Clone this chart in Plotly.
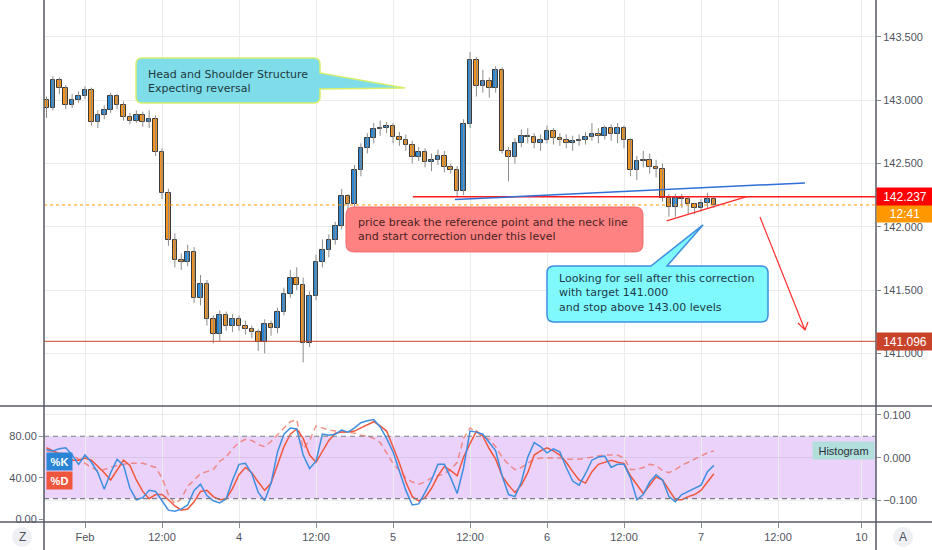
import plotly.graph_objects as go

# hourly bars; x = hours from Mon 3 Feb 00:00, weekend squeezed out
hours = list(range(-6, 99))

opens = [143.00, 142.94, 143.16, 143.10, 142.96, 143.00, 143.03, 143.08, 142.83, 142.88,
         142.92, 143.03, 142.96, 142.87, 142.84, 142.88, 142.83, 142.85, 142.59, 142.27,
         141.90, 141.74, 141.72, 141.80, 141.44, 141.55, 141.27, 141.15, 141.30, 141.22,
         141.27, 141.22, 141.19, 141.17, 141.09, 141.23, 141.20, 141.33, 141.47, 141.60,
         141.54, 141.08, 141.45, 141.72, 141.82, 141.90, 142.01, 142.24, 142.18, 142.45,
         142.62, 142.70, 142.77, 142.78, 142.80, 142.71, 142.69, 142.65, 142.55, 142.59,
         142.51, 142.53, 142.56, 142.47, 142.45, 142.28, 142.81, 143.32, 143.11, 143.15,
         143.10, 143.24, 142.60, 142.55, 142.66, 142.72, 142.71, 142.66, 142.69, 142.76,
         142.70, 142.69, 142.66, 142.68, 142.69, 142.71, 142.73, 142.72, 142.78, 142.73,
         142.78, 142.69, 142.45, 142.52, 142.53, 142.47, 142.46, 142.23, 142.16, 142.23,
         142.22, 142.18, 142.15, 142.19, 142.22]
highs = [143.03, 143.19, 143.18, 143.12, 143.05, 143.07, 143.11, 143.10, 142.92, 142.96,
         143.06, 143.05, 142.99, 142.90, 142.92, 142.91, 142.92, 142.88, 142.62, 142.30,
         141.95, 141.79, 141.86, 141.84, 141.62, 141.58, 141.30, 141.34, 141.33, 141.31,
         141.30, 141.26, 141.22, 141.19, 141.27, 141.26, 141.36, 141.52, 141.66, 141.68,
         141.60, 141.49, 141.78, 141.90, 141.94, 142.04, 142.30, 142.26, 142.49, 142.66,
         142.74, 142.82, 142.84, 142.83, 142.82, 142.75, 142.73, 142.68, 142.63, 142.62,
         142.58, 142.61, 142.60, 142.50, 142.48, 142.85, 143.38, 143.34, 143.24, 143.18,
         143.27, 143.26, 142.63, 142.70, 142.77, 142.78, 142.74, 142.73, 142.80, 142.78,
         142.74, 142.73, 142.72, 142.73, 142.75, 142.82, 142.78, 142.80, 142.81, 142.82,
         142.80, 142.70, 142.56, 142.60, 142.58, 142.53, 142.50, 142.26, 142.26, 142.26,
         142.24, 142.19, 142.22, 142.27, 142.24]
lows = [142.86, 142.92, 143.05, 142.93, 142.94, 142.98, 143.01, 142.80, 142.78, 142.85,
        142.90, 142.93, 142.84, 142.81, 142.82, 142.79, 142.78, 142.56, 142.22, 141.85,
        141.68, 141.66, 141.69, 141.40, 141.38, 141.22, 141.08, 141.10, 141.18, 141.17,
        141.18, 141.15, 141.12, 141.02, 141.00, 141.14, 141.16, 141.30, 141.44, 141.50,
        140.93, 141.05, 141.42, 141.68, 141.76, 141.86, 141.98, 142.12, 142.15, 142.40,
        142.58, 142.66, 142.72, 142.74, 142.66, 142.64, 142.60, 142.50, 142.52, 142.47,
        142.44, 142.49, 142.43, 142.42, 142.24, 142.25, 142.78, 143.03, 143.06, 143.02,
        143.06, 142.58, 142.36, 142.50, 142.63, 142.66, 142.62, 142.60, 142.66, 142.65,
        142.64, 142.62, 142.60, 142.64, 142.65, 142.68, 142.66, 142.69, 142.68, 142.66,
        142.62, 142.40, 142.37, 142.47, 142.42, 142.39, 142.20, 142.08, 142.08, 142.15,
        142.10, 142.10, 142.12, 142.15, 142.15]
closes = [142.94, 143.16, 143.10, 142.96, 143.00, 143.03, 143.08, 142.83, 142.88, 142.92,
          143.03, 142.96, 142.87, 142.84, 142.88, 142.83, 142.85, 142.59, 142.27, 141.90,
          141.74, 141.72, 141.80, 141.44, 141.55, 141.27, 141.15, 141.30, 141.22, 141.27,
          141.22, 141.19, 141.17, 141.09, 141.23, 141.20, 141.33, 141.47, 141.60, 141.54,
          141.08, 141.45, 141.72, 141.82, 141.90, 142.01, 142.24, 142.18, 142.45, 142.62,
          142.70, 142.77, 142.78, 142.80, 142.71, 142.69, 142.65, 142.55, 142.59, 142.51,
          142.53, 142.56, 142.47, 142.45, 142.28, 142.81, 143.32, 143.11, 143.15, 143.10,
          143.24, 142.60, 142.55, 142.66, 142.72, 142.71, 142.66, 142.69, 142.76, 142.70,
          142.69, 142.66, 142.68, 142.69, 142.71, 142.73, 142.72, 142.78, 142.73, 142.78,
          142.69, 142.45, 142.52, 142.53, 142.47, 142.46, 142.23, 142.16, 142.23, 142.22,
          142.18, 142.15, 142.19, 142.22, 142.17]

stoch_k = [67, 66, 68, 69, 62, 53, 62, 55, 45, 29,
           45, 58, 52, 30, 19, 21, 28, 27, 18, 9,
           8, 10, 14, 28, 34, 23, 18, 16, 20, 38,
           53, 54, 44, 26, 18, 35, 65, 82, 88, 87,
           62, 49, 56, 82, 81, 82, 86, 84, 88, 93,
           95, 96, 89, 78, 65, 46, 28, 14, 15, 26,
           38, 53, 53, 40, 25, 50, 85, 84, 82, 74,
           66, 42, 24, 22, 36, 60, 74, 70, 64, 68,
           65, 50, 37, 33, 44, 57, 60, 61, 50, 53,
           53, 40, 19, 24, 36, 43, 38, 22, 17, 24,
           27, 30, 33, 46, 52]
stoch_d = [69, 66, 63, 60, 57, 57, 59, 57, 51, 45,
           38, 48, 57, 52, 38, 27, 20, 24, 24, 19,
           13, 9, 10, 17, 27, 28, 22, 19, 20, 30,
           43, 50, 45, 36, 28, 35, 52, 70, 82, 87,
           78, 62, 55, 66, 76, 83, 84, 84, 85, 88,
           91, 94, 90, 85, 70, 54, 36, 22, 18, 21,
           30, 42, 51, 47, 42, 60, 73, 85, 80, 68,
           58, 42, 33, 26, 33, 45, 62, 66, 69, 66,
           62, 55, 46, 38, 35, 46, 53, 55, 57, 55,
           54, 42, 33, 25, 33, 41, 38, 29, 19, 19,
           22, 24, 28, 36, 44]
stoch_slow = [66, 65, 64, 63, 62, 58, 54, 50, 47, 48,
              50, 52, 53, 54, 54, 54, 52, 50, 40, 24,
              15, 20, 32, 38, 44, 46, 48, 56, 60, 68,
              74, 77, 76, 72, 70, 75, 82, 88, 94, 96,
              68, 76, 90, 88, 86, 85, 84, 84, 83, 81,
              80, 78, 74, 64, 54, 47, 40, 36, 34, 36,
              40, 42, 44, 48, 55, 78, 88, 84, 80, 77,
              70, 60, 53, 48, 50, 54, 58, 59, 59, 59,
              59, 58, 58, 58, 59, 60, 61, 62, 62, 62,
              59, 48, 48, 50, 53, 52, 47, 45, 48, 52,
              55, 58, 61, 64, 66]

tick_hours = [0, 12, 24, 36, 48, 60, 72, 84, 96, 108, 121]
tick_text = ["Feb", "12:00", "4", "12:00", "5", "12:00", "6", "12:00", "7", "12:00", "10"]
price_ticks = [141.0, 141.5, 142.0, 142.5, 143.0, 143.5]
osc_ticks = [0, 40, 80]
hist_ticks = [-0.1, 0.0, 0.1]

LAST_PRICE = 142.173
NECK_LEVEL = 142.237
LOW_LEVEL = 141.096

# axis windows
X_MIN, X_MAX = -6.39, 123.27
Y_MIN, Y_MAX = 140.585, 143.792
OSC_MIN, OSC_MAX = -2.4, 109.1
HIST_MIN, HIST_MAX = -0.150, 0.1207
SPLIT = 116 / 522          # oscillator pane height share
XS = 832 / (X_MAX - X_MIN)  # px per hour
YS = 406 / (Y_MAX - Y_MIN)  # px per price unit

UP, DOWN, EDGE, WICK = "#2789d8", "#f7931a", "#3a3a3a", "#8c8c8c"
GRID = "#ececec"
FRAME = "#565a64"
TXT = "#50535e"
AX_FONT = dict(family="Liberation Sans, Arial", size=11, color=TXT)
NOTE_FONT = "DejaVu Sans, Verdana"


def paper_x(px):
    return (px - 44) / 832


def paper_y(py):
    return (522 - py) / 522


def callout(x0, x1, y0, y1, r=6, top_tail=None, right_tail=None):
    """rounded box (data coords) with an optional pointer"""
    rx, ry = r / XS, r / YS
    p = [f"M{x0 + rx},{y1}"]
    if top_tail:
        a, b, tip = top_tail
        p += [f"L{a},{y1}", f"L{tip[0]},{tip[1]}", f"L{b},{y1}"]
    p += [f"L{x1 - rx},{y1}", f"Q{x1},{y1} {x1},{y1 - ry}"]
    if right_tail:
        a, b, tip = right_tail
        p += [f"L{x1},{a}", f"L{tip[0]},{tip[1]}", f"L{x1},{b}"]
    p += [f"L{x1},{y0 + ry}", f"Q{x1},{y0} {x1 - rx},{y0}",
          f"L{x0 + rx},{y0}", f"Q{x0},{y0} {x0},{y0 + ry}",
          f"L{x0},{y1 - ry}", f"Q{x0},{y1} {x0 + rx},{y1}", "Z"]
    return " ".join(p)


# candle bodies and wicks
body_base = [min(o, c) for o, c in zip(opens, closes)]
body_h = [max(abs(c - o), 0.004) for o, c in zip(opens, closes)]
body_col = [UP if c >= o else DOWN for o, c in zip(opens, closes)]
wx, wy = [], []
for h, lo, hi in zip(hours, lows, highs):
    wx += [h, h, None]
    wy += [lo, hi, None]

fig = go.Figure()
fig.add_trace(go.Scatter(x=wx, y=wy, mode="lines", line=dict(color=WICK, width=1),
                         hoverinfo="skip", yaxis="y"))
fig.add_trace(go.Bar(x=hours, y=body_h, base=body_base, width=0.72, yaxis="y",
                     marker=dict(color=body_col, line=dict(color=EDGE, width=1)),
                     hoverinfo="skip"))

fig.add_trace(go.Scatter(x=hours, y=stoch_slow, mode="lines", yaxis="y2",
                         line=dict(color="rgba(240,105,85,0.7)", width=1.5, dash="6px,4px"),
                         hoverinfo="skip"))
fig.add_trace(go.Scatter(x=hours, y=stoch_d, mode="lines", yaxis="y2",
                         line=dict(color="#f0573c", width=1.5), hoverinfo="skip"))
fig.add_trace(go.Scatter(x=hours, y=stoch_k, mode="lines", yaxis="y2",
                         line=dict(color="#3e8fe0", width=1.5), hoverinfo="skip"))
# keeps the histogram scale alive on the right side
fig.add_trace(go.Scatter(x=[hours[0]], y=[0], mode="markers", yaxis="y3",
                         marker=dict(opacity=0), hoverinfo="skip"))

shapes = []
# oscillator band
shapes.append(dict(type="rect", xref="paper", yref="y2", x0=0, x1=1, y0=20, y1=80,
                   fillcolor="#ead2fb", line=dict(width=0), layer="below"))
for lvl in (20, 80):
    shapes.append(dict(type="line", xref="paper", yref="y2", x0=0, x1=1, y0=lvl, y1=lvl,
                       line=dict(color="#7a7d86", width=1.2, dash="5px,4px")))

# price levels
shapes.append(dict(type="line", xref="paper", yref="y", x0=0, x1=1,
                   y0=LOW_LEVEL, y1=LOW_LEVEL, line=dict(color="#c9432a", width=1)))
shapes.append(dict(type="line", xref="paper", yref="y", x0=0, x1=1,
                   y0=LAST_PRICE, y1=LAST_PRICE, line=dict(color="#ff9800", width=1, dash="dot")))
shapes.append(dict(type="line", xref="x", yref="y", x0=51.1, x1=X_MAX,
                   y0=NECK_LEVEL, y1=NECK_LEVEL, line=dict(color="#ff1a1a", width=1.5)))
# trend lines and arrow
shapes.append(dict(type="line", xref="x", yref="y", x0=57.66, y0=142.216, x1=112.2, y1=142.347,
                   line=dict(color="#2f6fd6", width=1.5)))
shapes.append(dict(type="line", xref="x", yref="y", x0=90.65, y0=142.047, x1=103.12, y1=142.239,
                   line=dict(color="#ff2a2a", width=1.3)))
shapes.append(dict(type="path", xref="x", yref="y",
                   path="M105.19,142.078 L112.2,141.186 M111.11,141.241 L112.2,141.186 L112.67,141.249",
                   line=dict(color="#ff3030", width=1.2)))

# callouts
shapes.append(dict(type="path", xref="x", yref="y",
                   path=callout(7.95, 36.62, 142.979, 143.334, r=6,
                                right_tail=(143.216, 143.089, (49.87, 143.097))),
                   fillcolor="#7fdde9", line=dict(color="#d6ef6c", width=1.5)))
shapes.append(dict(type="path", xref="x", yref="y",
                   path=callout(40.67, 86.96, 141.802, 142.157, r=8),
                   fillcolor="#ff8282", line=dict(color="#f46a6a", width=1)))
shapes.append(dict(type="path", xref="x", yref="y",
                   path=callout(72.0, 106.44, 141.249, 141.691, r=7,
                                top_tail=(88.2, 90.7, (96.31, 142.015))),
                   fillcolor="#80f9fd", line=dict(color="#3d8ee0", width=1.5)))

# pane frames
fr = dict(color=FRAME, width=1.5)
shapes.append(dict(type="line", xref="paper", yref="paper", x0=paper_x(0), x1=paper_x(932),
                   y0=SPLIT, y1=SPLIT, line=fr))
shapes.append(dict(type="line", xref="paper", yref="paper", x0=paper_x(0), x1=paper_x(932),
                   y0=0, y1=0, line=fr))
for xp in (0, 1):
    shapes.append(dict(type="line", xref="paper", yref="paper", x0=xp, x1=xp,
                       y0=paper_y(550), y1=1, line=fr))
# corner buttons
for cx in (22, 903):
    shapes.append(dict(type="circle", xref="paper", yref="paper",
                       x0=paper_x(cx - 10), x1=paper_x(cx + 10),
                       y0=paper_y(547), y1=paper_y(527),
                       fillcolor="#eef0f4", line=dict(width=0)))

ann = []


def note(x, y, lines, color):
    ann.append(dict(x=x, y=y, xref="x", yref="y", text="<br>".join(lines), showarrow=False,
                    xanchor="left", yanchor="middle", align="left",
                    font=dict(family=NOTE_FONT, size=11, color=color)))


note(9.5, 143.152, ["Head and Shoulder Structure", "Expecting reversal"], "#1d3a40")
note(42.23, 141.983, ["price break the reference point and the neck line",
                      "and start correction under this level"], "#4a2222")
note(73.56, 141.474, ["Looking for sell after this correction", "with target 141.000",
                      "and stop above 143.00 levels"], "#1d3a4a")


def axis_tag(y, yref, text, bg, yshift=0):
    ann.append(dict(x=1, xref="paper", y=y, yref=yref, yshift=yshift, text=text,
                    showarrow=False, xanchor="left", yanchor="middle",
                    width=52, height=13, borderpad=2, bgcolor=bg,
                    font=dict(family="Liberation Sans, Arial", size=12, color="white")))


axis_tag(LAST_PRICE, "y", "12:41", "#ff9800", yshift=-9)
axis_tag(NECK_LEVEL, "y", f"{NECK_LEVEL:.3f}", "#ff0000")
axis_tag(LOW_LEVEL, "y", f"{LOW_LEVEL:.3f}", "#c9432a")

for txt, bg, yc in (("%K", "#2b85d6", 55.8), ("%D", "#f0553d", 37.5)):
    ann.append(dict(x=-6.08, xref="x", y=yc, yref="y2", text=f"<b>{txt}</b>", showarrow=False,
                    xanchor="left", yanchor="middle", width=21, height=13, borderpad=2,
                    bgcolor=bg, font=dict(family="Liberation Sans, Arial", size=11, color="white")))
ann.append(dict(x=113.3, xref="x", y=66.3, yref="y2", text="Histogram", showarrow=False,
                xanchor="left", yanchor="middle", width=57, height=13, borderpad=2,
                bgcolor="#b2dfdb", font=dict(family="Liberation Sans, Arial", size=11, color="#2a2e39")))
for cx, letter in ((22, "Z"), (903, "A")):
    ann.append(dict(x=paper_x(cx), y=paper_y(537), xref="paper", yref="paper", text=letter,
                    showarrow=False, xanchor="center", yanchor="middle",
                    font=dict(family="Liberation Sans, Arial", size=12, color=TXT)))

fig.update_layout(
    width=932, height=550,
    margin=dict(l=44, r=56, t=0, b=28, autoexpand=False),
    paper_bgcolor="white", plot_bgcolor="white",
    showlegend=False, hovermode=False, bargap=0,
    xaxis=dict(range=[X_MIN, X_MAX], anchor="y2", tickvals=tick_hours, ticktext=tick_text,
               showgrid=True, gridcolor=GRID, zeroline=False, ticks="outside", ticklen=5,
               tickcolor="#8a8d96", tickfont=AX_FONT, showline=False),
    yaxis=dict(domain=[SPLIT, 1], range=[Y_MIN, Y_MAX], side="right", anchor="x",
               tickvals=price_ticks, ticktext=[f"{v:.3f}" for v in price_ticks],
               showgrid=True, gridcolor=GRID, zeroline=False, ticks="outside", ticklen=4,
               tickcolor="#8a8d96", tickfont=AX_FONT),
    yaxis2=dict(domain=[0, SPLIT], range=[OSC_MIN, OSC_MAX], side="left", anchor="x",
                tickvals=osc_ticks, ticktext=[f"{v:.2f}" for v in osc_ticks],
                showgrid=False, zeroline=False, ticks="outside", ticklen=4,
                tickcolor="#8a8d96", tickfont=AX_FONT),
    yaxis3=dict(overlaying="y2", side="right", anchor="x", range=[HIST_MIN, HIST_MAX],
                tickvals=hist_ticks, ticktext=["\u22120.100", "0.000", "0.100"],
                showgrid=True, gridcolor="rgba(0,0,0,0.07)", zeroline=False,
                ticks="outside", ticklen=4, tickcolor="#8a8d96", tickfont=AX_FONT),
    shapes=shapes,
    annotations=ann,
)

# page body has a default 8px margin; drop it so the figure fills the window
fig.write_html("out.html", config={"displayModeBar": False},
               post_script="document.body.style.margin='0';")
